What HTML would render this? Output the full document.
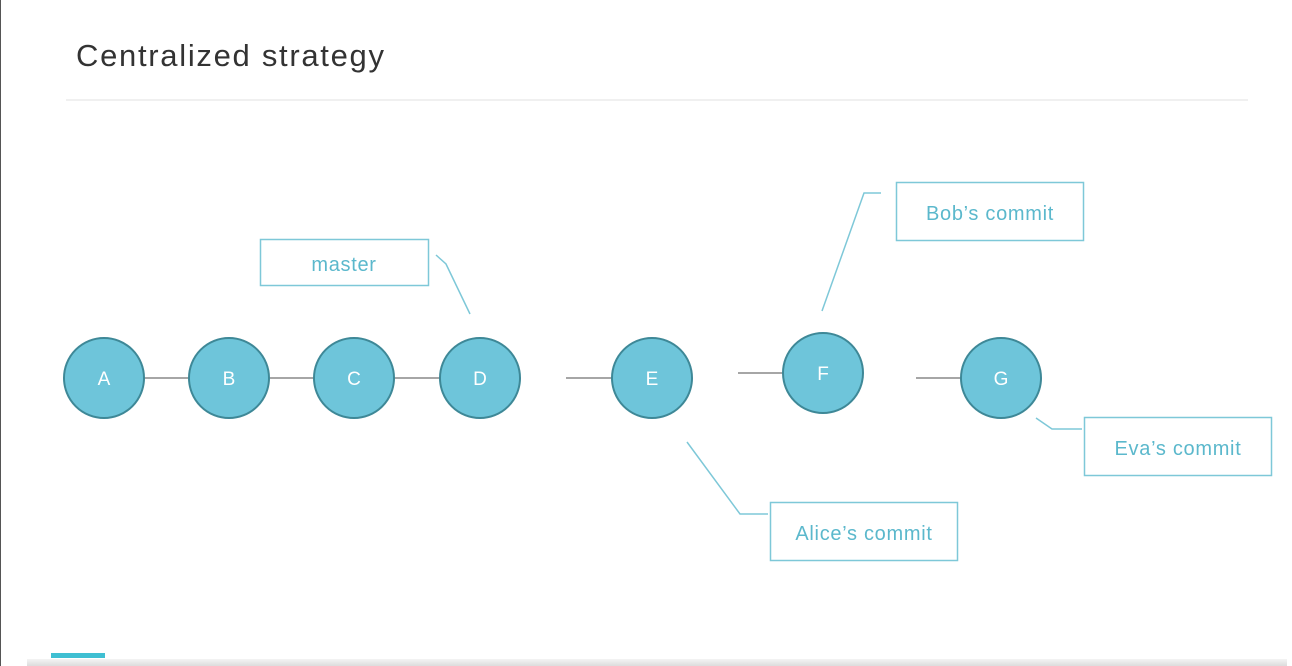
<!DOCTYPE html>
<html><head><style>
body{margin:0;width:1292px;height:666px;background:#fff;overflow:hidden;position:relative;font-family:"Liberation Sans",sans-serif}
</style></head><body>
<div style="position:absolute;left:0;top:0;width:1px;height:666px;background:#555"></div>
<div style="position:absolute;left:76px;top:38px;font-size:31px;color:#333;letter-spacing:1.7px">Centralized strategy</div>
<div style="position:absolute;left:66px;top:99px;width:1182px;height:2px;background:#f0f0f0"></div>
<div style="position:absolute;left:51px;top:653px;width:54px;height:5px;background:#3fbfd2"></div>
<div style="position:absolute;left:27px;top:659px;width:1260px;height:7px;background:linear-gradient(#f4f4f4,#dcdcdc)"></div>
<svg width="1292" height="666" style="position:absolute;left:0;top:0">
<g stroke="#888" stroke-width="1.5">
<line x1="104" y1="378" x2="480" y2="378"/>
<line x1="566" y1="378" x2="614" y2="378"/>
<line x1="738" y1="373" x2="785" y2="373"/>
<line x1="916" y1="378" x2="962" y2="378"/>
</g>
<g stroke="#7ec8d8" stroke-width="1.5" fill="none">
<polyline points="436,255 446,264 470,314"/>
<polyline points="881,193 864,193 822,311"/>
<polyline points="687,442 740,514 768,514"/>
<polyline points="1036,418 1052,429 1082,429"/>
<rect x="260.5" y="239.5" width="168" height="46"/>
<rect x="896.5" y="182.5" width="187" height="58"/>
<rect x="770.5" y="502.5" width="187" height="58"/>
<rect x="1084.5" y="417.5" width="187" height="58"/>
</g>
<g fill="#6ec5da" stroke="#3e8897" stroke-width="2">
<circle cx="104" cy="378" r="40"/><circle cx="229" cy="378" r="40"/><circle cx="354" cy="378" r="40"/><circle cx="480" cy="378" r="40"/><circle cx="652" cy="378" r="40"/><circle cx="823" cy="373" r="40"/><circle cx="1001" cy="378" r="40"/>
</g>
<g fill="#fff" font-size="19" text-anchor="middle" font-family="Liberation Sans,sans-serif">
<text x="104" y="385">A</text><text x="229" y="385">B</text><text x="354" y="385">C</text><text x="480" y="385">D</text><text x="652" y="385">E</text><text x="823" y="380">F</text><text x="1001" y="385">G</text>
</g>
<g fill="#5bb8cc" font-size="20" text-anchor="middle" font-family="Liberation Sans,sans-serif" letter-spacing="0.7">
<text x="344" y="271">master</text>
<text x="990" y="220">Bob’s commit</text>
<text x="864" y="540">Alice’s commit</text>
<text x="1178" y="455">Eva’s commit</text>
</g>
</svg>
</body></html>
